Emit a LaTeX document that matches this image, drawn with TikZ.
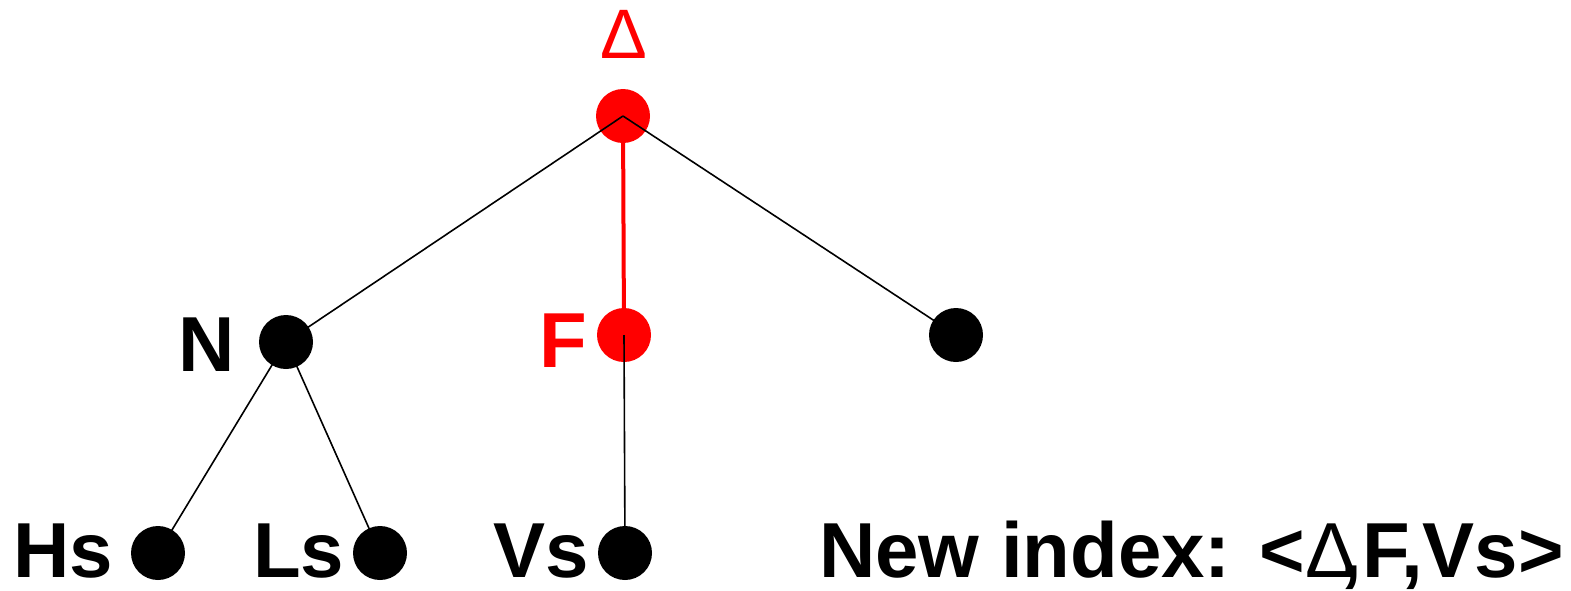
\documentclass[tikz,border=0pt]{standalone}
\usepackage{fontspec}
\setmainfont{Liberation Sans}
\pgfdeclarelayer{under}
\pgfdeclarelayer{edges}
\pgfsetlayers{under,edges,main}
\begin{document}
\begin{tikzpicture}[x=1pt,y=-1pt,
  dot/.style={circle,fill=black,inner sep=0pt,minimum size=54pt},
  reddot/.style={dot,fill=red},
  edge/.style={line width=1.6pt,black},
  rededge/.style={line width=4pt,red},
  lbl/.style={inner sep=0pt,text depth=0pt,font=\fontsize{78}{88}\selectfont\bfseries},
]
\useasboundingbox (0,0) rectangle (1571,590);

% red path nodes sit below the connectors
\begin{pgfonlayer}{under}
  \node[reddot] (root) at (623,116) {};
  \node[reddot] (F) at (624,335) {};
\end{pgfonlayer}

\node[dot] (N) at (286,342) {};
\node[dot] (R) at (956,335) {};
\node[dot] (Hs) at (158,553) {};
\node[dot] (Ls) at (380,553) {};
\node[dot] (Vs) at (625,553) {};

\begin{pgfonlayer}{edges}
  \draw[rededge] (root.center) -- (F.center);
  \draw[edge] (root.center) -- (N.center);
  \draw[edge] (root.center) -- (R.center);
  \draw[edge] (N.center) -- (Hs.center);
  \draw[edge] (N.center) -- (Ls.center);
  \draw[edge] (F.center) -- (Vs.center);
\end{pgfonlayer}

% labels
\node[lbl,red,anchor=base,font=\fontsize{70}{80}\selectfont] (tdelta) at (624,58) {Δ};
\node[lbl,anchor=base east] (tN) at (235,371) {N};
\node[lbl,red,anchor=base east] (tF) at (587,367) {F};
\node[lbl,anchor=base west] (tHs) at (13,577) {Hs};
\node[lbl,anchor=base west] (tLs) at (253,577) {Ls};
\node[lbl,anchor=base west] (tVs) at (493,577) {Vs};
\node[lbl,anchor=base west] (tidx) at (819,577)
  {New index: <{\mdseries Δ}\kern-0.22em,F,Vs>};
\end{tikzpicture}
\end{document}
